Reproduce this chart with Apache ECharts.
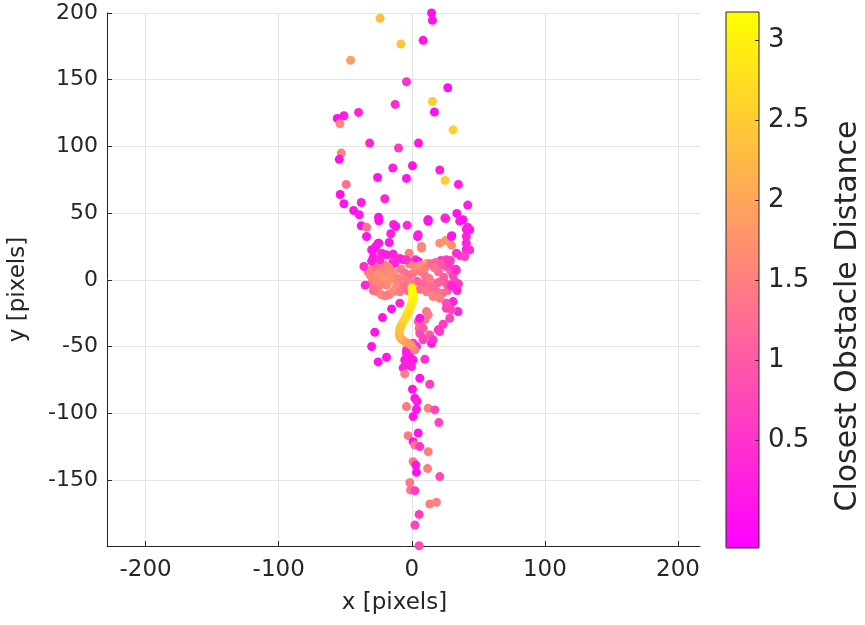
<!DOCTYPE html>
<html>
<head>
<meta charset="utf-8">
<script src="https://cdn.jsdelivr.net/npm/echarts@6/dist/echarts.min.js"></script>
<style>html,body{margin:0;padding:0;background:#fff}#c{width:865px;height:625px}</style>
</head>
<body>
<div id="c"></div>
<script>
// [x, y, closest obstacle distance]
const upperPoints = [
 [14.8,200,0.05],[15.5,194.5,0.05],[-23.8,196,2.3],[8.5,179.5,0.1],[-8.2,176.8,2.4],[-46,164.5,1.9],
 [-4,148.5,0.5],[27,144,0.05],[15.5,133.7,2.5],[17,125.8,0.05],[-12.5,131.5,0.4],[-40,125.5,0.3],
 [-51,123,0.2],[-56,121,0.05],[-54,117,1.6],[31,112.5,2.6],[-31.7,102.5,0.3],[-10,98.8,0.6],
 [5,102.5,0.1],[-53,95,1.5],[-54.5,90.3,0.05],[0.5,85.5,0.1],[-14.3,83.8,0.2],[21,82.3,0.2],
 [-25.7,76.7,0.1],[-4,76,0.1],[25,74.5,2.5],[35,71.5,0.2],[-49.3,71.5,1.3],[-53.8,64,0.05],
 [-51,57,0.1],[-38,58,0.2],[-20.3,60.8,0.3],[42,56,0.2],[-43.7,52,0.1],[-39.5,48.8,0.2],
 [33.8,49.8,0.1],[25.5,46,0.4],[12,44.8,0.3],[-25,47,0.1],[-24.8,44.3,0.1],[-13.7,41.5,0.2],
 [-3.5,41,0.3],[36,44,0.2],[42,39.5,0.3],[-38,40.5,0.1],[-34,39.5,1.3],[-12,40,0.1],
 [38.5,45,0.1],[43.5,37.5,0.2],[41,32.5,0.3],[24.8,46.3,0.3],[12.3,45,0.1]
];
const ringPoints = [
 [-34,32.5,0.1],[-15.8,34.5,0.2],[-17,28,0.1],[-24.8,27.5,0.2],[-27,25,0.1],[4.3,32.5,0.1],
 [12.3,43.8,0.1],[30,33,0.1],[41,38,0.2],[21,27.5,1.7],[25.5,29.5,1.8],[29.8,26,1.7],
 [7.3,23.8,1.6],[41,23,0.2],[36.5,18,0.6],[-29,22.5,0.1],[-29,17,0.2],[-22.7,20,0.2],
 [-14,19.3,0.3],[-2,20,1.5],[-6.5,15,0.3],[-0.7,13,0.5],[2.8,15,0.4],[11.5,12.5,2.0],
 [22,14.5,0.5],[29,14.5,0.6],[33.5,7,0.7],[20.5,10,0.9],[-14,14,0.5],[-22.7,12,1.4],
 [26,15,0.6],[33.5,20,0.4],[41,27.5,0.3],[43.5,22.5,0.4],[39.8,17.5,0.7],[-30.2,22.5,0.1],
 [-25.3,27.5,0.1],[-19,18.8,0.2],[-12.8,12.5,0.3],[4.8,13.8,0.1],[7.3,25,1.6],[4.8,33.8,0.2],
 [29.8,32.5,0.1]
];
const blobPoints = [
 [-30,8,1.5],[-31,3,1.6],[-30,-2,1.5],[-28,-6,1.4],[-26,-9,1.5],[-23,-11,1.6],[-20,-12,1.5],
 [-17,-11,1.4],[-14,-9,1.6],[-12,-6,1.7],[-11,-2,1.6],[-12,2,1.5],[-14,6,1.7],[-17,9,1.6],
 [-20,11,1.5],[-24,11,1.4],[-27,10,1.3],[-25,4,1.7],[-22,0,1.8],[-19,-4,1.6],[-24,-4,1.5],
 [-18,4,1.7],[-21,7,1.6],[-16,0,1.7],[-27,0,1.6],[-33,6,1.5],[-29,-8,1.3],
 [-8,8,1.4],[-5,5,1.3],[-2,3,1.2],[1,5,1.3],[4,8,1.5],[7,6,1.4],[10,3,1.3],[13,1,1.4],
 [15,-2,1.5],[12,-4,1.3],[8,-3,1.2],[4,-1,1.1],[0,-3,1.3],[-4,-1,1.4],[-7,1,1.5],[-6,-5,1.3],
 [2,10,1.6],[6,11,1.7],[10,9,1.5],[-2,12,1.5],[-9,-9,1.4],[-3,-8,1.2],[6,-7,1.3],[11,-9,1.4],
 [14,12,1.2],[18,13,1.1],[22,12,1.0],[26,10,0.9],[29,7,1.0],[31,3,0.8],[32,-1,0.7],[30,-5,0.9],
 [27,-8,1.1],[23,-10,1.2],[19,-9,1.3],[16,-6,1.2],[20,-2,1.1],[24,2,1.0],[20,6,1.2],[17,9,1.3],
 [26,-3,1.0],[28,12,0.6],[33,8,0.4],[34,-8,0.3],[35,-3,0.5],[29.8,-4.5,0.3],
 [-30.2,14,0.2],[-36,10,0.4],[-35,-4,0.3],[-24,15,0.4],[-9,16,0.3],[-4,15,0.5]
];
const pathPoints = [
 [0,-6,3.15],[0.5,-9,3.15],[0.7,-11,3.1],[0.8,-13,3.1],[0.6,-15,3.05],[0.2,-17,3.0],
 [-0.4,-19,2.95],[-1.2,-21,2.9],[-2.1,-23,2.85],[-3,-25,2.8],[-4,-27,2.75],[-5,-29,2.7],
 [-6.2,-31,2.65],[-7.3,-33,2.6],[-8.3,-35,2.5],[-9,-37,2.45],[-9.4,-39,2.4],[-9.4,-41,2.35],
 [-8.8,-43,2.3],[-7.6,-44.5,2.2],[-6,-45.8,2.1],[-4.2,-47,2.0],[-2.3,-48,1.9],[-0.5,-49,1.8]
];
const lowerLoopPoints = [
 [31,-16.3,0.2],[21,-13.8,1.5],[26,-21.3,0.6],[28.5,-28.8,0.7],[23.5,-33.3,0.6],[19.8,-37.5,0.5],
 [14.8,-47.5,0.1],[11,-23.8,1.4],[9.8,-30,1.4],[5.5,-36.3,1.2],[4.8,-31.3,1.1],[13.5,-41.3,1.0],
 [8.5,-43.8,0.9],[1,-47.5,0.6],[-4,-52.5,0.3],[34.7,-23.8,0.3],[16,-12.5,1.5],[26,-17.5,0.8],
 [29.8,-22.5,0.7],[21,-38.8,0.6],[16,-45,0.5],[12.3,-26.3,1.4],[8.5,-36.3,1.0],[6,-40,0.8],
 [8.5,-45,0.7],[3.5,-50,0.4],[6,-28.8,0.1]
];
const lowerPoints = [
 [-30.2,-50,0.1],[-27.8,-39.3,0.1],[-22,-28.3,0.1],[-15.2,-21.8,0.1],[-9,-17.5,0.3],
 [-25.3,-61.5,0.1],[-19,-58,0.1],[-5.3,-60,0.1],[-1.5,-57.5,0.2],[2.3,-52.5,1.5],[9.8,-59.5,0.5],
 [-4,-55,0.2],[-4.5,-63,0.3],[-6.5,-66,0.2],[-5.3,-70.5,1.5],[-0.3,-65,0.3],[1,-60,0.2],
 [6,-73.8,0.1],[13.5,-78.3,0.6],[0.5,-82,0.1],[2.3,-88.8,0.1],[4,-91,0.2],[-4,-95,1.4],
 [3.5,-97,0.1],[12.3,-96.3,1.5],[17.3,-97.5,0.7],[1,-102.5,0.1],[20.3,-107,0.7],[4.8,-114.8,0.1],
 [-2.8,-116.8,1.4],[1,-121.3,0.05],[2.3,-123.8,1.4],[6,-125,0.5],[12.3,-128.8,1.5],[1,-136.3,1.4],
 [3,-138.8,0.1],[3.5,-144.3,0.05],[11.8,-141.5,1.5],[21,-147.5,0.8],[-1.5,-152,1.4],[-1,-157.5,1.4],
 [2.3,-158,0.6],[13.5,-168,1.5],[18.5,-166.8,1.5],[5.5,-175.8,0.6],[2.3,-183.8,0.7],[5.5,-199.3,0.8]
];
const xTicks = [-200,-100,0,100,200];
const yTicks = [-150,-100,-50,0,50,100,150,200];
const cbTicks = [0.5,1,1.5,2,2.5,3];
const cRange = [-0.17, 3.175];

const allPoints = [].concat(upperPoints, ringPoints, blobPoints, lowerLoopPoints, lowerPoints, pathPoints);
const font = 'DejaVu Sans';
const ink = '#262626';

const chart = echarts.init(document.getElementById('c'), null, {renderer:'canvas'});
chart.setOption({
  animation:false,
  grid:[
    {left:107, top:13, width:593, height:533, containLabel:false, outerBoundsMode:'none'},
    {left:726, top:12, width:33, height:536, show:true, borderColor:ink, borderWidth:1,
     backgroundColor:'transparent', z:10, containLabel:false, outerBoundsMode:'none'}
  ],
  xAxis:[
    {type:'value', gridIndex:0, min:-229, max:216.5,
     name:'x [pixels]', nameLocation:'middle', nameGap:46,
     nameTextStyle:{fontFamily:font, fontSize:23, color:ink, padding:[0,18,0,0]},
     axisLine:{show:true, onZero:false, lineStyle:{color:ink}},
     axisTick:{show:true, inside:true, length:5, customValues:xTicks, lineStyle:{color:ink}},
     axisLabel:{customValues:xTicks, fontFamily:font, fontSize:23, color:ink, margin:13},
     splitLine:{show:true, lineStyle:{color:'#e3e3e3'}}},
    {type:'value', gridIndex:1, min:0, max:1, show:false,
     axisLine:{show:false, onZero:false}, axisTick:{show:false}, axisLabel:{show:false}, splitLine:{show:false}}
  ],
  yAxis:[
    {type:'value', gridIndex:0, min:-199.5, max:200,
     name:'y [pixels]', nameLocation:'middle', nameGap:77, nameRotate:90,
     nameTextStyle:{fontFamily:font, fontSize:23, color:ink, padding:[0,20,0,0]},
     axisLine:{show:true, onZero:false, lineStyle:{color:ink}},
     axisTick:{show:true, inside:true, length:5, customValues:yTicks, lineStyle:{color:ink}},
     axisLabel:{customValues:yTicks, fontFamily:font, fontSize:22, color:ink, margin:9},
     splitLine:{show:true, lineStyle:{color:'#e3e3e3'}}},
    {type:'value', gridIndex:1, min:cRange[0], max:cRange[1], position:'right',
     name:'Closest Obstacle Distance', nameLocation:'middle', nameGap:74, nameRotate:90,
     nameTextStyle:{fontFamily:font, fontSize:30, color:ink, padding:[0,72,0,0]},
     axisLine:{show:false, onZero:false},
     axisTick:{show:true, inside:true, length:4, customValues:cbTicks, lineStyle:{color:ink}},
     axisLabel:{customValues:cbTicks, fontFamily:font, fontSize:26, color:ink, margin:9},
     splitLine:{show:false}, z:10}
  ],
  visualMap:{
    type:'continuous', min:cRange[0], max:cRange[1], dimension:2, seriesIndex:0,
    inRange:{color:['#ff00ff','#ffff00']}, calculable:false, text:null,
    left:726, top:12, itemWidth:33, itemHeight:536, padding:0, hoverLink:false, z:2
  },
  series:[{
    type:'scatter', xAxisIndex:0, yAxisIndex:0, data:allPoints,
    symbol:'circle', symbolSize:9, itemStyle:{opacity:1}
  }]
});
</script>
</body>
</html>
